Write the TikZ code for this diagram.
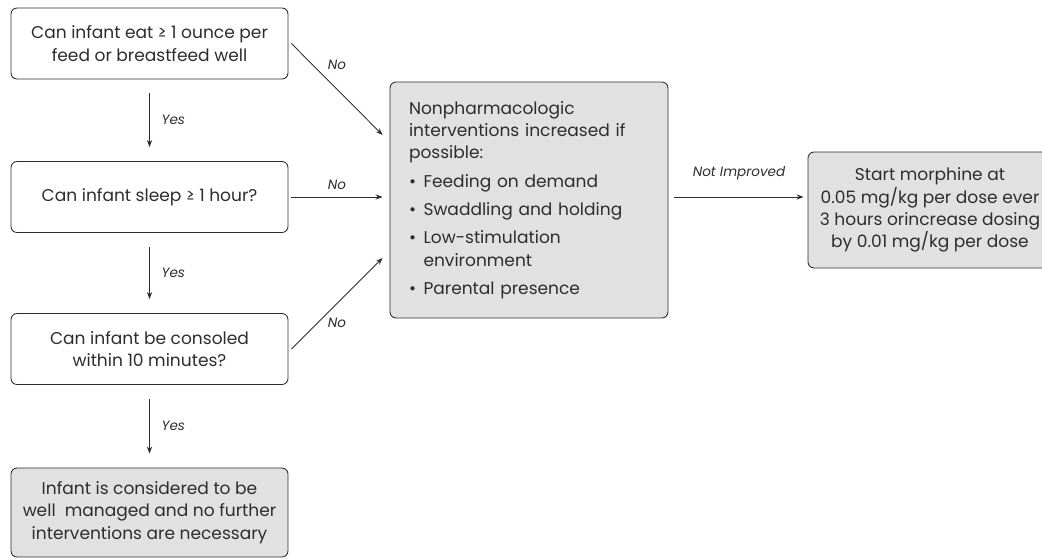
\documentclass[tikz,border=0pt]{standalone}
\usepackage{fontspec}
\setmainfont{Poppins}
\usetikzlibrary{arrows.meta}

\definecolor{boxgray}{RGB}{225,225,226}
\definecolor{ink}{RGB}{45,45,45}
\newcommand{\bul}{\makebox[0.85em][l]{\textbullet}}

\tikzset{
  qbox/.style={draw=ink, rounded corners=3.4pt, line width=0.5pt, text=ink,
    minimum width=5.54cm, minimum height=1.42cm, inner sep=0pt,
    align=center, font=\fontsize{9.7}{12.7}\selectfont},
  abox/.style={qbox, fill=boxgray},
  arr/.style={draw=ink, line width=0.5pt, -{Stealth[length=4pt,width=3pt]}},
  lab/.style={font=\itshape\fontsize{7.7}{9}\selectfont, text=ink, inner sep=1pt}
}

\begin{document}
\begin{tikzpicture}[x=0.02cm, y=-0.02cm]
\useasboundingbox (0,0) rectangle (1042,559);

% questions on the left
\node[qbox] (0) at (149.5,43.5) {Can infant eat ≥ 1 ounce per\\feed or breastfeed well};
\node[qbox] (1) at (149.5,197) {Can infant sleep ≥ 1 hour?};
\node[qbox] (2) at (149.5,349) {Can infant be consoled\\within 10 minutes?};
\node[abox, minimum height=1.78cm] (3) at (149.5,512.5) {Infant is considered to be\\well~ managed and no further\\interventions are necessary};

% interventions and morphine
\node[abox, minimum width=5.56cm, minimum height=4.72cm, text width=4.8cm, align=left] (4) at (529,200)
  {Nonpharmacologic\\interventions increased if\\possible:\\[3.4pt]
   \bul Feeding on demand\\[3.4pt]
   \bul Swaddling and holding\\[3.4pt]
   \bul Low-stimulation\\\hspace*{0.85em}environment\\[3.4pt]
   \bul Parental presence};
\node[abox, minimum width=4.88cm, minimum height=2.32cm] (5) at (930,210)
  {Start morphine at\\0.05 mg/kg per dose ever\\3 hours orincrease dosing\\by 0.01 mg/kg per dose};

% yes arrows
\draw[arr, shorten <=0.28cm, shorten >=0.28cm] (0.south) -- (1.north) node[lab, midway, right=0.2cm] {Yes};
\draw[arr, shorten <=0.28cm, shorten >=0.28cm] (1.south) -- (2.north) node[lab, midway, right=0.2cm] {Yes};
\draw[arr, shorten <=0.28cm, shorten >=0.28cm] (2.south) -- (3.north) node[lab, midway, right=0.2cm] {Yes};

% no arrows
\draw[arr] ([xshift=0.06cm]0.east) -- ([xshift=-0.14cm, yshift=1.3cm]4.west) node[lab, midway, above=0.35cm] {No};
\draw[arr] ([xshift=0.06cm]1.east) -- ([xshift=-0.14cm]4.west |- 1.east) node[lab, midway, above=0.1cm] {No};
\draw[arr] ([xshift=0.06cm]2.east) -- ([xshift=-0.14cm, yshift=-1.16cm]4.west) node[lab, midway, below=0.25cm] {No};

\draw[arr] ([xshift=0.12cm]4.east |- 1.east) -- ([xshift=-0.08cm]5.west |- 1.east) node[lab, midway, above=0.3cm] {Not Improved};
\end{tikzpicture}
\end{document}
